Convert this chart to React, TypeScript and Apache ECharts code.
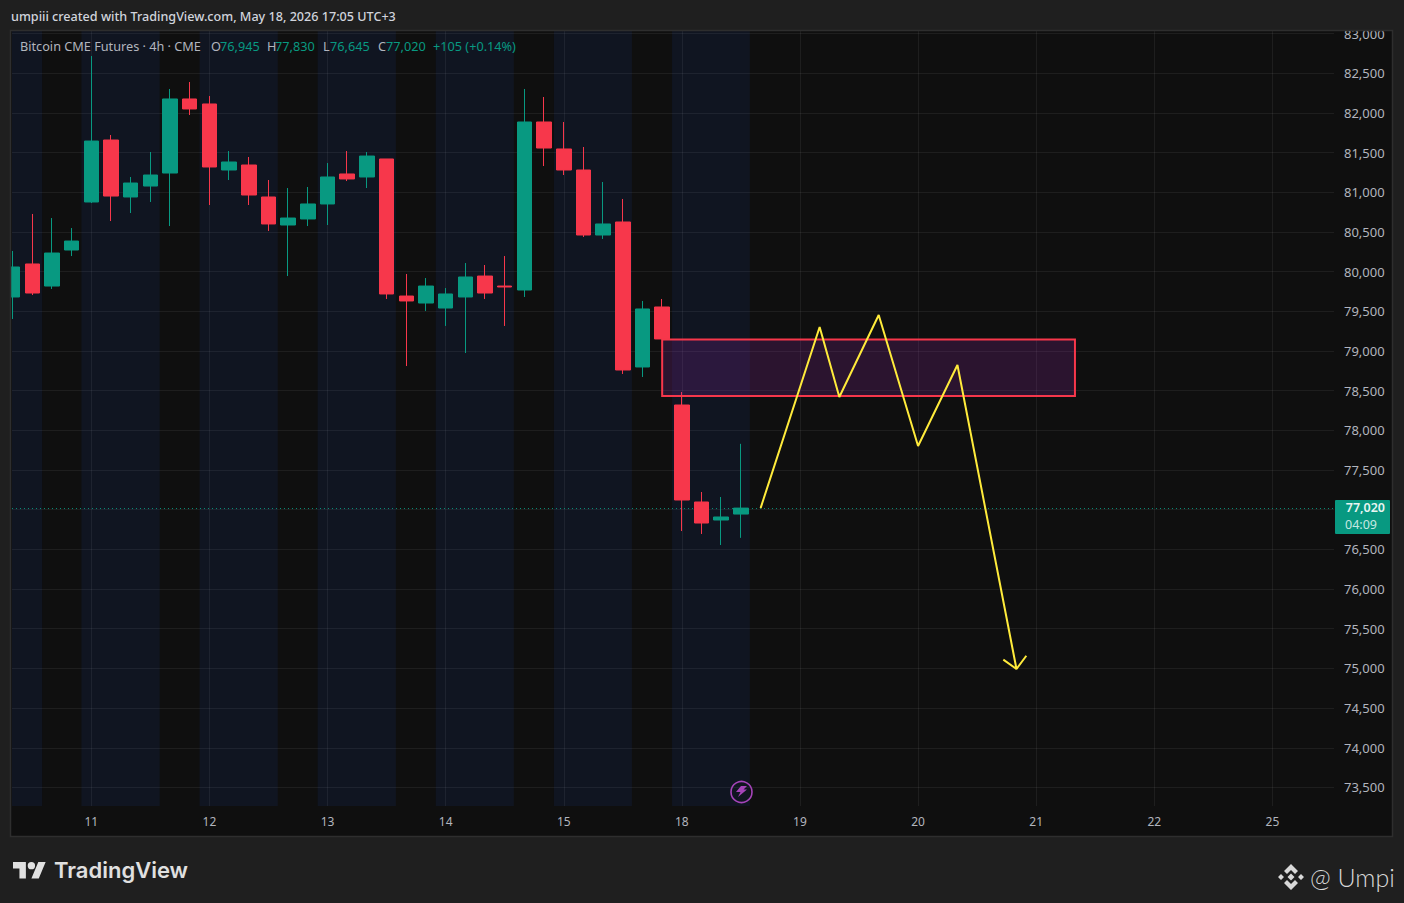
import React, { useEffect, useRef } from "react";
import * as echarts from "echarts";

const opens = [79680,80096,79818,80272,80877,81658,80940,81078,81242,82175,82112,81280,81343,80940,80587,80663,80852,81230,81192,81419,79692,79604,79541,79680,79944,79818,79768,81885,81545,81280,80461,80625,78798,79554,78319,77097,76870,76945];
const closes = [80058,79730,80234,80385,81645,80952,81116,81217,82175,82049,81318,81381,80965,80600,80675,80852,81192,81167,81456,79718,79630,79818,79718,79932,79730,79806,81885,81557,81280,80461,80600,78760,79529,79151,77122,76832,76908,77020];
const lows = [79403,79705,79781,80196,80864,80637,80738,80877,80574,81973,80839,81154,80839,80512,79944,80574,80587,81141,81053,79655,78810,79504,79315,78974,79655,79315,79680,81330,81217,80436,80411,78710,78672,79151,76731,76694,76555,76645];
const highs = [80260,80726,80675,80549,82716,81721,81192,81507,82301,82389,82212,81519,81444,81154,81053,81066,81368,81519,81507,81419,79970,79919,79793,80108,80083,80196,82301,82200,81885,81570,81129,80915,79630,79655,78483,77223,77160,77830];

const dayIndexes = [4,10,16,22,28,34,40,46,52,58,64];
const dayLabels = ["11","12","13","14","15","18","19","20","21","22","25"];
const priceTicks = [73500,74000,74500,75000,75500,76000,76500,77000,77500,78000,78500,79000,79500,80000,80500,81000,81500,82000,82500,83000];
const priceLabels = priceTicks.filter((p) => p !== 77000);
const sessionStarts = [-0.03,3.5,9.5,15.5,21.5,27.5,33.5];
const sessionEnds = [1.5,7.47,13.47,19.47,25.46,31.46,37.45];
const zigzagX = [38,41,42,44,46,48,51];
const zigzagY = [77020,79302,78420,79453,77802,78823,74993];
const arrowX = [50.33,51,51.5];
const arrowY = [75110,74993,75160];
const zoneX = [33,53.97];
const zoneY = [78432,79144];
const lastPrice = 77020;

const xMin = -0.03;
const xMax = 67.13;
const yMin = 73266.5;
const yMax = 83031.5;

const RED = "#f7374b";
const GREEN = "#089981";
const FONT = "'Noto Sans', sans-serif";
const AXISC = "#b2b5be";

echarts.graphic.registerShape("tvLogo", echarts.graphic.extendPath(
  "M14 22H7V11H0V4h14v18zM28 22h-8l7.5-18h8L28 22zM24 8a4 4 0 1 1-8 0 4 4 0 0 1 8 0z", {}));
echarts.graphic.registerShape("bnbLogo", echarts.graphic.extendPath(
  "M13 0L20 7L17 10L13 6L9 10L6 7ZM13 26L20 19L17 16L13 20L9 16L6 19ZM13 9.5L16.5 13L13 16.5L9.5 13ZM3 10L6 13L3 16L0 13ZM23 10L26 13L23 16L20 13Z", {}));
echarts.graphic.registerShape("bolt", echarts.graphic.extendPath(
  "M6 0L12 0L8.5 3.5L12 3.5L3 11L5.5 6L1 6Z", {}));

export default function App() {
  const ref = useRef<HTMLDivElement>(null);
  useEffect(() => {
    document.body.style.margin = "0";
    document.body.style.background = "#1f1f1f";
    const chart = echarts.init(ref.current!, undefined, { renderer: "svg" });
    const legend = (text: string, x: number, fill: string) => ({
      type: "text", x, y: 46, z: 60,
      style: { text, fill, font: `12.7px ${FONT}`, textVerticalAlign: "middle" },
    });
    chart.setOption({
      animation: false,
      backgroundColor: "#1f1f1f",
      grid: { left: 12, right: 70, top: 31, bottom: 97, show: false },
      xAxis: {
        type: "value", min: xMin, max: xMax,
        axisLine: { show: false },
        axisTick: { show: false, customValues: dayIndexes },
        splitLine: { show: true, lineStyle: { color: "rgba(242,242,242,0.07)", width: 1 } },
        axisLabel: {
          customValues: dayIndexes, margin: 9, color: AXISC, fontSize: 12, fontFamily: FONT,
          formatter: (v: number) => dayLabels[dayIndexes.indexOf(v)] ?? "",
        },
      },
      yAxis: {
        type: "value", position: "right", min: yMin, max: yMax, scale: true,
        axisLine: { show: false },
        axisTick: { show: false, customValues: priceTicks },
        splitLine: { show: true, lineStyle: { color: "rgba(242,242,242,0.07)", width: 1 } },
        axisLabel: {
          customValues: priceLabels, margin: 10, color: AXISC, fontSize: 13, fontFamily: FONT,
          padding: [0, 0, 1, 0],
          formatter: (v: number) => v.toLocaleString("en-US"),
        },
      },
      series: [
        {
          type: "candlestick",
          barWidth: 15,
          clip: true,
          z: 2,
          itemStyle: { color: GREEN, color0: RED, borderColor: GREEN, borderColor0: RED, borderWidth: 1 },
          data: opens.map((o, i) => [i, o, closes[i], lows[i], highs[i]]),
          markArea: {
            silent: true, z: 1,
            itemStyle: { color: "rgba(41,98,255,0.08)" },
            data: sessionStarts.map((s, i) => [
              { xAxis: s, yAxis: yMin },
              { xAxis: sessionEnds[i], yAxis: yMax },
            ]),
          },
          markLine: {
            silent: true, symbol: "none", z: 1,
            label: { show: false },
            lineStyle: { color: GREEN, type: [1, 3], width: 1, opacity: 0.9 },
            data: [{ yAxis: lastPrice }],
          },
        },
        {
          type: "line",
          z: 4,
          showSymbol: false,
          symbol: "none",
          lineStyle: { color: "#ffeb3b", width: 2 },
          data: zigzagX.map((x, i) => [x, zigzagY[i]]),
          markArea: {
            silent: true, z: 3,
            itemStyle: { color: "rgba(156,39,176,0.2)", borderColor: RED, borderWidth: 2 },
            data: [[{ xAxis: zoneX[0], yAxis: zoneY[1] }, { xAxis: zoneX[1], yAxis: zoneY[0] }]],
          },
        },
        {
          type: "line",
          z: 4,
          showSymbol: false,
          symbol: "none",
          lineStyle: { color: "#ffeb3b", width: 2 },
          data: arrowX.map((x, i) => [x, arrowY[i]]),
        },
      ],
      graphic: [
        // pane
        { type: "rect", z: -10, shape: { x: 11, y: 31, width: 1381, height: 805 }, style: { fill: "#0f0f0f" } },
        // margins cover what overflows the pane
        { type: "rect", z: 40, shape: { x: 0, y: 0, width: 1404, height: 30 }, style: { fill: "#1f1f1f" } },
        { type: "rect", z: 40, shape: { x: 0, y: 30, width: 10.5, height: 807 }, style: { fill: "#1f1f1f" } },
        { type: "rect", z: 41, shape: { x: 10.5, y: 30.5, width: 1382, height: 806 }, style: { fill: "none", stroke: "#2e2e2e", lineWidth: 1.5 } },
        // title + legend
        { type: "text", x: 11, y: 16, z: 60, style: { text: "umpiii created with TradingView.com, May 18, 2026 17:05 UTC+3", fill: "#d1d4dc", font: `500 12.6px ${FONT}`, textVerticalAlign: "middle" } },
        legend("Bitcoin CME Futures · 4h · CME", 20, AXISC),
        legend("O", 211, AXISC), legend("76,945", 220, GREEN),
        legend("H", 267, AXISC), legend("77,830", 275, GREEN),
        legend("L", 323, AXISC), legend("76,645", 330, GREEN),
        legend("C", 378, AXISC), legend("77,020", 386, GREEN),
        legend("+105 (+0.14%)", 433, GREEN),
        // last price tag
        { type: "rect", z: 50, shape: { x: 1335, y: 500, width: 55, height: 34, r: 1 }, style: { fill: GREEN } },
        { type: "text", x: 1385, y: 507.5, z: 51, style: { text: "77,020", fill: "#e8f5f2", font: `600 12.5px ${FONT}`, textAlign: "right", textVerticalAlign: "middle" } },
        { type: "text", x: 1377, y: 524, z: 51, style: { text: "04:09", fill: "#c6e8e1", font: `12.5px ${FONT}`, textAlign: "right", textVerticalAlign: "middle" } },
        // lightning badge
        { type: "circle", z: 30, shape: { cx: 741.5, cy: 792, r: 10.5 }, style: { fill: "none", stroke: "#a544b9", lineWidth: 1.6 } },
        { type: "bolt", z: 30, x: 735, y: 786, style: { fill: "#a544b9" } },
        // footer
        { type: "tvLogo", z: 30, x: 13, y: 858.3, scaleX: 0.92, scaleY: 0.92, style: { fill: "#e0e0e0" } },
        { type: "text", x: 54, y: 870, z: 30, style: { text: "TradingView", fill: "#e0e0e0", font: `600 22px Inter, ${FONT}`, textVerticalAlign: "middle" } },
        { type: "bnbLogo", z: 30, x: 1278, y: 864, style: { fill: "#d8d8d8" } },
        { type: "text", x: 1310, y: 877, z: 30, style: { text: "@ Umpi", fill: "#d8d8d8", font: `300 25px Lato, ${FONT}`, textVerticalAlign: "middle" } },
      ],
    });
    return () => chart.dispose();
  }, []);
  return <div ref={ref} style={{ position: "absolute", left: 0, top: 0, width: 1404, height: 903 }} />;
}
